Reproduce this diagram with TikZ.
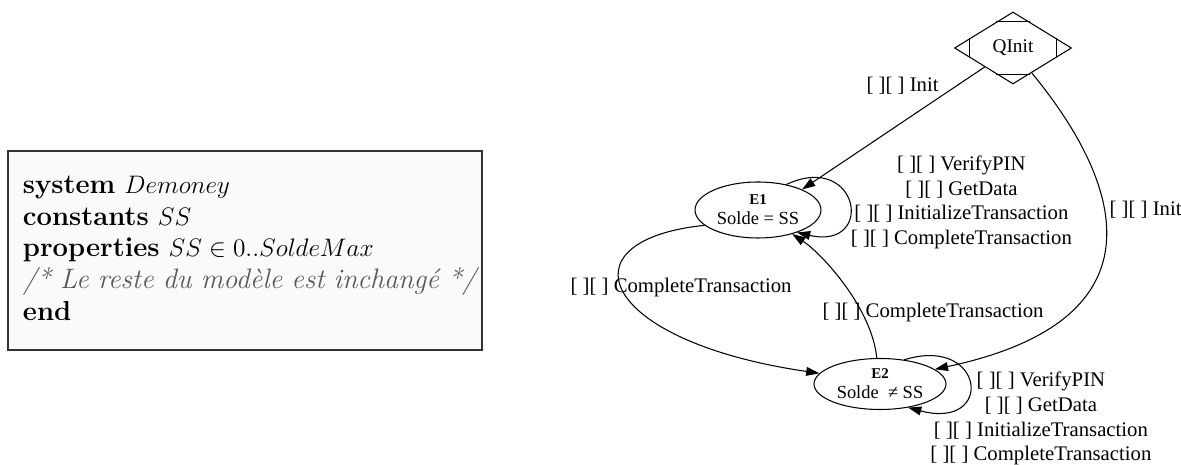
\documentclass[tikz,border=0pt]{standalone}
\usepackage{fontspec}
\usepackage{amsmath}
\newfontfamily\gvfont{Liberation Serif}
\usetikzlibrary{arrows.meta,positioning,shapes.geometric,calc}
\newcommand\noguard{{[ ][ ]}}

\begin{document}
\begin{tikzpicture}[
  x=0.02cm, y=-0.02cm,
  st/.style={draw,ellipse,line width=0.6pt,inner sep=0pt,align=center,font=\gvfont\fontsize{10.5}{11.5}\selectfont},
  lbl/.style={font=\gvfont\fontsize{11.8}{14}\selectfont,align=center,inner sep=1pt},
  tr/.style={-{Triangle[length=7.5pt,width=5pt]},line width=0.6pt}
]
\useasboundingbox (0,0) rectangle (1181,465);

% B model box
\node[draw=black!80,line width=1.1pt,fill=black!2,anchor=north west,
  minimum width=9.48cm,minimum height=3.98cm,text width=8.88cm,inner xsep=0.3cm,
  align=left,font=\fontsize{15.6}{18}\selectfont] (model) at (7,150)
  {\begin{tabular}{@{}l@{}}
   \textbf{system} $Demoney$\\
   \textbf{constants} $SS$\\
   \textbf{properties} $SS \in 0..SoldeMax$\\
   \color{black!65}\fontsize{16}{18}\selectfont\textit{/* Le reste du modèle est inchangé */}\\
   \textbf{end}
   \end{tabular}};

% states
\node[draw,diamond,aspect=1.63,minimum width=2.34cm,minimum height=1.44cm,inner sep=0pt,
  line width=0.6pt,font=\gvfont\fontsize{11}{12}\selectfont] (qinit) at (1013,48) {QInit};
\draw[line width=0.6pt] ($(qinit.north)!.28!(qinit.west)$) -- ($(qinit.north)!.28!(qinit.east)$);
\draw[line width=0.6pt] ($(qinit.south)!.28!(qinit.west)$) -- ($(qinit.south)!.28!(qinit.east)$);
\draw[line width=0.6pt] ($(qinit.west)!.26!(qinit.north)$) -- ($(qinit.west)!.26!(qinit.south)$);
\draw[line width=0.6pt] ($(qinit.east)!.26!(qinit.north)$) -- ($(qinit.east)!.26!(qinit.south)$);
\node[st,minimum width=2.52cm,minimum height=1.12cm] (e1) at (758,210)
  {{\bfseries\fontsize{8.5}{10}\selectfont E1}\\Solde = SS};
\node[st,minimum width=2.64cm,minimum height=1.02cm] (e2) at (880,384)
  {{\bfseries\fontsize{8.5}{10}\selectfont E2}\\Solde~ ≠ SS};

% transitions
\draw[tr] (qinit) -- (e1.25) node[lbl,pos=.24,anchor=south east] (linit1) {\noguard{} Init};
\draw[tr] (qinit.-53) .. controls +(89,108) and +(235,-50) .. (e2.15)
  node[lbl,pos=.4,right=2pt] (linit2) {\noguard{} Init};
\draw[tr] (e1.42) .. controls +(73,-34) and +(79,18) .. (e1.-30)
  node[lbl,pos=.5,right] (lloop1) {\noguard{} VerifyPIN\\\noguard{} GetData\\\noguard{} InitializeTransaction\\\noguard{} CompleteTransaction};
\draw[tr] (e1.196) .. controls +(-145,15) and +(-220,-32) .. (e2.170)
  node[lbl,pos=.47,xshift=1.18cm] (lct1) {\noguard{} CompleteTransaction};
\draw[tr] (e2.97) .. controls +(-5,-50) and +(30,20) .. (e1.-35)
  node[lbl,pos=.3,xshift=1.42cm] (lct2) {\noguard{} CompleteTransaction};
\draw[tr] (e2.45) .. controls +(81,-25) and +(87,23) .. (e2.-40)
  node[lbl,pos=.5,anchor=north west,xshift=-0.82cm,yshift=0.26cm] (lloop2) {\noguard{} VerifyPIN\\\noguard{} GetData\\\noguard{} InitializeTransaction\\\noguard{} CompleteTransaction};
\end{tikzpicture}
\end{document}
